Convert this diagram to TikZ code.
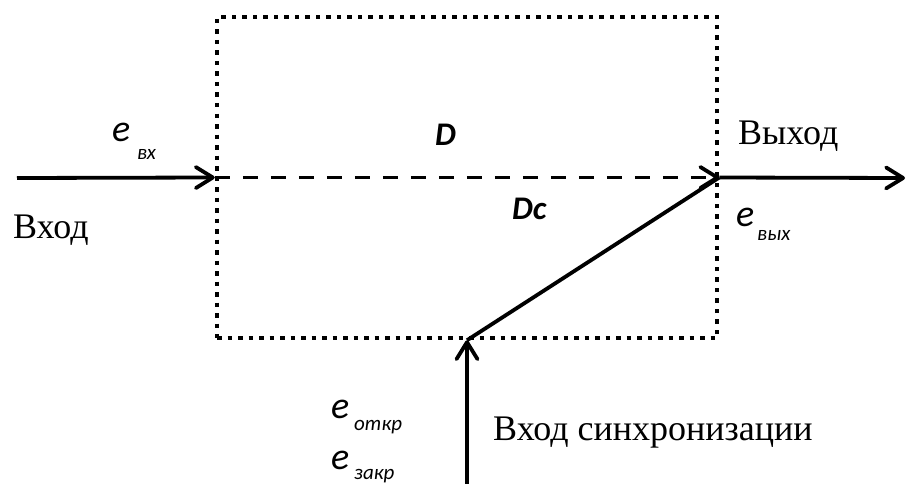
\documentclass[tikz,border=0pt]{standalone}
\usepackage{fontspec}
\setmainfont{Liberation Serif}
\newfontfamily\calfont{Carlito}
\usetikzlibrary{arrows.meta}
\begin{document}
\begin{tikzpicture}[x=1pt,y=-1pt,
  boxline/.style={line width=4.5pt, dash pattern=on 4.5pt off 6pt},
  wire/.style={line width=3.8pt},
  dashwire/.style={line width=3.8pt, dash pattern=on 15pt off 13pt},
  arr/.style={-{Straight Barb[length=17pt,width=21pt,round]}},
  txt/.style={anchor=base west, inner sep=0pt, font=\fontsize{36}{40}\selectfont},
  ee/.style={anchor=base west, inner sep=0pt, font=\calfont\itshape\fontsize{38}{42}\selectfont},
  sub/.style={anchor=base west, inner sep=0pt, font=\calfont\itshape\fontsize{21}{24}\selectfont},
  big/.style={anchor=base west, inner sep=0pt, font=\calfont\bfseries\itshape\fontsize{33}{38}\selectfont}]
\useasboundingbox (0,0) rectangle (907,484);
\node[boxline, draw, minimum width=500pt, minimum height=321pt, inner sep=0pt] (box) at (467,177.5) {};
\coordinate (src) at (17,178);
\coordinate (dst) at (905,178);
\coordinate (sync) at (467,484);
\draw[wire, arr] (src) -- (box.west);
\draw[dashwire, arr] (box.west) -- (box.east);
\draw[wire, arr] (box.east) -- (dst);
\draw[wire, arr] (sync) -- (box.south);
\draw[wire] (box.south) -- (box.east);
% labels
\node[txt] (vhod) at (13,238) {Вход};
\node[ee] (evx) at (112,141) {e};
\node[sub] (evxs) at (137,159) {вх};
\node[big] (d) at (435,146) {D};
\node[big] (dc) at (512,219) {Dc};
\node[txt] (vyhod) at (738,145) {Выход};
\node[ee] (evyh) at (736,226) {e};
\node[sub] (evyhs) at (757,240) {вых};
\node[ee] (eotkr) at (331,418) {e};
\node[sub] (eotkrs) at (354,430) {откр};
\node[ee] (ezakr) at (331,469) {e};
\node[sub] (ezakrs) at (354,479) {закр};
\node[txt] (sinh) at (493,440) {Вход синхронизации};
\end{tikzpicture}
\end{document}
